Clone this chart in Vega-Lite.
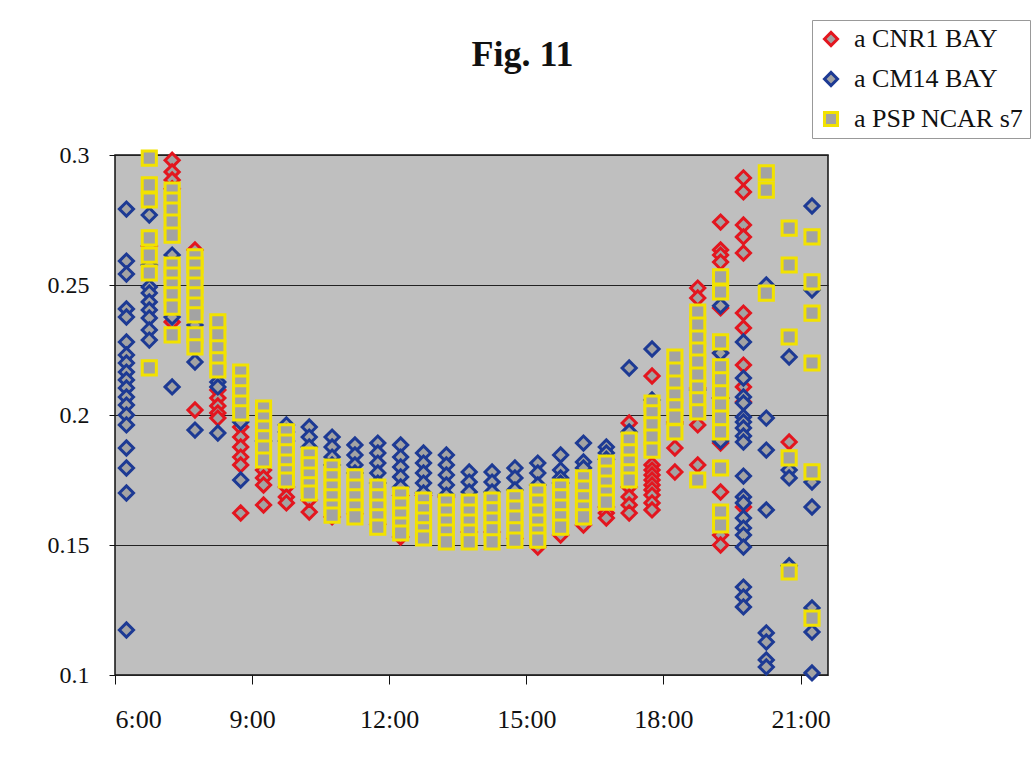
{
  "$schema": "https://vega.github.io/schema/vega-lite/v6.json",
  "width": 713,
  "height": 520,
  "autosize": "none",
  "padding": {"left": 115, "top": 155, "right": 203, "bottom": 87},
  "background": "white",
  "title": {"text": "Fig. 11", "font": "Liberation Serif", "fontSize": 36, "fontWeight": "bold", "anchor": "middle", "dx": 51, "offset": -82, "baseline": "alphabetic", "color": "#111"},
  "config": {
    "view": {"fill": "#bfbfbf", "stroke": "#111", "strokeWidth": 1.5},
    "style": {"guide-label": {"font": "Liberation Serif", "fill": "#111"}},
    "axis": {"labelFont": "Liberation Serif", "labelColor": "#111", "tickColor": "#111", "domain": false, "title": null},
    "legend": {"labelFont": "Liberation Serif", "labelFontSize": 26, "labelColor": "#111", "labelLimit": 400, "labelOffset": 10, "symbolSize": 170, "symbolStrokeWidth": 3, "symbolFillColor": "#a3a3a3", "padding": 6, "rowPadding": 14, "fillColor": "#ffffff", "strokeColor": "#999999"}
  },
  "data": {"values": [
    {"s":"a CNR1 BAY","t":6.75,"v":0.265},
    {"s":"a CNR1 BAY","t":7.25,"v":0.298},{"s":"a CNR1 BAY","t":7.25,"v":0.2935},{"s":"a CNR1 BAY","t":7.25,"v":0.2904},{"s":"a CNR1 BAY","t":7.25,"v":0.287},{"s":"a CNR1 BAY","t":7.25,"v":0.2358},
    {"s":"a CNR1 BAY","t":7.75,"v":0.2635},{"s":"a CNR1 BAY","t":7.75,"v":0.2019},
    {"s":"a CNR1 BAY","t":8.25,"v":0.2096},{"s":"a CNR1 BAY","t":8.25,"v":0.2065},{"s":"a CNR1 BAY","t":8.25,"v":0.2035},{"s":"a CNR1 BAY","t":8.25,"v":0.2008},{"s":"a CNR1 BAY","t":8.25,"v":0.1988},
    {"s":"a CNR1 BAY","t":8.75,"v":0.1954},{"s":"a CNR1 BAY","t":8.75,"v":0.1915},{"s":"a CNR1 BAY","t":8.75,"v":0.1877},{"s":"a CNR1 BAY","t":8.75,"v":0.1838},{"s":"a CNR1 BAY","t":8.75,"v":0.1808},{"s":"a CNR1 BAY","t":8.75,"v":0.1623},
    {"s":"a CNR1 BAY","t":9.25,"v":0.1788},{"s":"a CNR1 BAY","t":9.25,"v":0.1758},{"s":"a CNR1 BAY","t":9.25,"v":0.1731},{"s":"a CNR1 BAY","t":9.25,"v":0.1654},
    {"s":"a CNR1 BAY","t":9.75,"v":0.1723},{"s":"a CNR1 BAY","t":9.75,"v":0.1685},{"s":"a CNR1 BAY","t":9.75,"v":0.1662},
    {"s":"a CNR1 BAY","t":10.25,"v":0.1673},{"s":"a CNR1 BAY","t":10.25,"v":0.1627},
    {"s":"a CNR1 BAY","t":10.75,"v":0.1608},
    {"s":"a CNR1 BAY","t":11.25,"v":0.162},
    {"s":"a CNR1 BAY","t":11.75,"v":0.158},
    {"s":"a CNR1 BAY","t":12.25,"v":0.169},{"s":"a CNR1 BAY","t":12.25,"v":0.1531},
    {"s":"a CNR1 BAY","t":12.75,"v":0.169},
    {"s":"a CNR1 BAY","t":13.25,"v":0.1685},
    {"s":"a CNR1 BAY","t":13.75,"v":0.155},
    {"s":"a CNR1 BAY","t":14.25,"v":0.155},
    {"s":"a CNR1 BAY","t":14.75,"v":0.1525},
    {"s":"a CNR1 BAY","t":15.25,"v":0.1492},
    {"s":"a CNR1 BAY","t":15.75,"v":0.1538},
    {"s":"a CNR1 BAY","t":16.25,"v":0.1577},
    {"s":"a CNR1 BAY","t":16.75,"v":0.1646},{"s":"a CNR1 BAY","t":16.75,"v":0.1623},{"s":"a CNR1 BAY","t":16.75,"v":0.1604},
    {"s":"a CNR1 BAY","t":17.25,"v":0.1969},{"s":"a CNR1 BAY","t":17.25,"v":0.1723},{"s":"a CNR1 BAY","t":17.25,"v":0.1685},{"s":"a CNR1 BAY","t":17.25,"v":0.1654},{"s":"a CNR1 BAY","t":17.25,"v":0.1623},
    {"s":"a CNR1 BAY","t":17.75,"v":0.215},{"s":"a CNR1 BAY","t":17.75,"v":0.1808},{"s":"a CNR1 BAY","t":17.75,"v":0.1788},{"s":"a CNR1 BAY","t":17.75,"v":0.1769},{"s":"a CNR1 BAY","t":17.75,"v":0.175},{"s":"a CNR1 BAY","t":17.75,"v":0.1731},{"s":"a CNR1 BAY","t":17.75,"v":0.1712},{"s":"a CNR1 BAY","t":17.75,"v":0.1692},{"s":"a CNR1 BAY","t":17.75,"v":0.1662},{"s":"a CNR1 BAY","t":17.75,"v":0.1635},
    {"s":"a CNR1 BAY","t":18.25,"v":0.1973},{"s":"a CNR1 BAY","t":18.25,"v":0.1873},{"s":"a CNR1 BAY","t":18.25,"v":0.1781},
    {"s":"a CNR1 BAY","t":18.75,"v":0.2488},{"s":"a CNR1 BAY","t":18.75,"v":0.245},{"s":"a CNR1 BAY","t":18.75,"v":0.2104},{"s":"a CNR1 BAY","t":18.75,"v":0.1962},{"s":"a CNR1 BAY","t":18.75,"v":0.1808},
    {"s":"a CNR1 BAY","t":19.25,"v":0.2742},{"s":"a CNR1 BAY","t":19.25,"v":0.2635},{"s":"a CNR1 BAY","t":19.25,"v":0.2615},{"s":"a CNR1 BAY","t":19.25,"v":0.2588},{"s":"a CNR1 BAY","t":19.25,"v":0.2412},{"s":"a CNR1 BAY","t":19.25,"v":0.2238},{"s":"a CNR1 BAY","t":19.25,"v":0.2065},{"s":"a CNR1 BAY","t":19.25,"v":0.1892},{"s":"a CNR1 BAY","t":19.25,"v":0.1704},{"s":"a CNR1 BAY","t":19.25,"v":0.1538},{"s":"a CNR1 BAY","t":19.25,"v":0.15},
    {"s":"a CNR1 BAY","t":19.75,"v":0.2912},{"s":"a CNR1 BAY","t":19.75,"v":0.2858},{"s":"a CNR1 BAY","t":19.75,"v":0.2731},{"s":"a CNR1 BAY","t":19.75,"v":0.2685},{"s":"a CNR1 BAY","t":19.75,"v":0.2623},{"s":"a CNR1 BAY","t":19.75,"v":0.2392},{"s":"a CNR1 BAY","t":19.75,"v":0.2335},{"s":"a CNR1 BAY","t":19.75,"v":0.2192},{"s":"a CNR1 BAY","t":19.75,"v":0.2108},{"s":"a CNR1 BAY","t":19.75,"v":0.205},{"s":"a CNR1 BAY","t":19.75,"v":0.1646},
    {"s":"a CNR1 BAY","t":20.75,"v":0.1896},

    {"s":"a CM14 BAY","t":6.25,"v":0.2792},{"s":"a CM14 BAY","t":6.25,"v":0.2592},{"s":"a CM14 BAY","t":6.25,"v":0.2542},{"s":"a CM14 BAY","t":6.25,"v":0.2408},{"s":"a CM14 BAY","t":6.25,"v":0.2377},{"s":"a CM14 BAY","t":6.25,"v":0.2281},{"s":"a CM14 BAY","t":6.25,"v":0.2231},{"s":"a CM14 BAY","t":6.25,"v":0.22},{"s":"a CM14 BAY","t":6.25,"v":0.2165},{"s":"a CM14 BAY","t":6.25,"v":0.2135},{"s":"a CM14 BAY","t":6.25,"v":0.2104},{"s":"a CM14 BAY","t":6.25,"v":0.2069},{"s":"a CM14 BAY","t":6.25,"v":0.2038},{"s":"a CM14 BAY","t":6.25,"v":0.2},{"s":"a CM14 BAY","t":6.25,"v":0.1962},{"s":"a CM14 BAY","t":6.25,"v":0.1873},{"s":"a CM14 BAY","t":6.25,"v":0.1796},{"s":"a CM14 BAY","t":6.25,"v":0.17},{"s":"a CM14 BAY","t":6.25,"v":0.1173},
    {"s":"a CM14 BAY","t":6.75,"v":0.2769},{"s":"a CM14 BAY","t":6.75,"v":0.2577},{"s":"a CM14 BAY","t":6.75,"v":0.2492},{"s":"a CM14 BAY","t":6.75,"v":0.2469},{"s":"a CM14 BAY","t":6.75,"v":0.2435},{"s":"a CM14 BAY","t":6.75,"v":0.2404},{"s":"a CM14 BAY","t":6.75,"v":0.2373},{"s":"a CM14 BAY","t":6.75,"v":0.2327},{"s":"a CM14 BAY","t":6.75,"v":0.2288},
    {"s":"a CM14 BAY","t":7.25,"v":0.2615},{"s":"a CM14 BAY","t":7.25,"v":0.2377},{"s":"a CM14 BAY","t":7.25,"v":0.2108},
    {"s":"a CM14 BAY","t":7.75,"v":0.2346},{"s":"a CM14 BAY","t":7.75,"v":0.2204},{"s":"a CM14 BAY","t":7.75,"v":0.1942},
    {"s":"a CM14 BAY","t":8.25,"v":0.2127},{"s":"a CM14 BAY","t":8.25,"v":0.2108},{"s":"a CM14 BAY","t":8.25,"v":0.1931},
    {"s":"a CM14 BAY","t":8.75,"v":0.1973},{"s":"a CM14 BAY","t":8.75,"v":0.175},
    {"s":"a CM14 BAY","t":9.25,"v":0.19},
    {"s":"a CM14 BAY","t":9.75,"v":0.1962},{"s":"a CM14 BAY","t":9.75,"v":0.1935},{"s":"a CM14 BAY","t":9.75,"v":0.19},
    {"s":"a CM14 BAY","t":10.25,"v":0.1954},{"s":"a CM14 BAY","t":10.25,"v":0.1915},{"s":"a CM14 BAY","t":10.25,"v":0.1877},
    {"s":"a CM14 BAY","t":10.75,"v":0.1915},{"s":"a CM14 BAY","t":10.75,"v":0.1877},{"s":"a CM14 BAY","t":10.75,"v":0.1838},{"s":"a CM14 BAY","t":10.75,"v":0.1808},
    {"s":"a CM14 BAY","t":11.25,"v":0.1885},{"s":"a CM14 BAY","t":11.25,"v":0.1846},{"s":"a CM14 BAY","t":11.25,"v":0.1808},{"s":"a CM14 BAY","t":11.25,"v":0.1777},
    {"s":"a CM14 BAY","t":11.75,"v":0.1892},{"s":"a CM14 BAY","t":11.75,"v":0.1854},{"s":"a CM14 BAY","t":11.75,"v":0.1815},{"s":"a CM14 BAY","t":11.75,"v":0.1777},{"s":"a CM14 BAY","t":11.75,"v":0.1738},
    {"s":"a CM14 BAY","t":12.25,"v":0.1885},{"s":"a CM14 BAY","t":12.25,"v":0.1838},{"s":"a CM14 BAY","t":12.25,"v":0.18},{"s":"a CM14 BAY","t":12.25,"v":0.1762},{"s":"a CM14 BAY","t":12.25,"v":0.1723},
    {"s":"a CM14 BAY","t":12.75,"v":0.1854},{"s":"a CM14 BAY","t":12.75,"v":0.1815},{"s":"a CM14 BAY","t":12.75,"v":0.1777},{"s":"a CM14 BAY","t":12.75,"v":0.1738},{"s":"a CM14 BAY","t":12.75,"v":0.17},
    {"s":"a CM14 BAY","t":13.25,"v":0.1846},{"s":"a CM14 BAY","t":13.25,"v":0.1808},{"s":"a CM14 BAY","t":13.25,"v":0.1769},{"s":"a CM14 BAY","t":13.25,"v":0.1731},{"s":"a CM14 BAY","t":13.25,"v":0.1692},
    {"s":"a CM14 BAY","t":13.75,"v":0.1781},{"s":"a CM14 BAY","t":13.75,"v":0.1742},{"s":"a CM14 BAY","t":13.75,"v":0.1704},
    {"s":"a CM14 BAY","t":14.25,"v":0.1781},{"s":"a CM14 BAY","t":14.25,"v":0.1742},{"s":"a CM14 BAY","t":14.25,"v":0.1704},
    {"s":"a CM14 BAY","t":14.75,"v":0.1796},{"s":"a CM14 BAY","t":14.75,"v":0.1758},{"s":"a CM14 BAY","t":14.75,"v":0.1712},
    {"s":"a CM14 BAY","t":15.25,"v":0.1815},{"s":"a CM14 BAY","t":15.25,"v":0.1777},{"s":"a CM14 BAY","t":15.25,"v":0.1731},
    {"s":"a CM14 BAY","t":15.75,"v":0.1846},{"s":"a CM14 BAY","t":15.75,"v":0.1788},{"s":"a CM14 BAY","t":15.75,"v":0.1758},{"s":"a CM14 BAY","t":15.75,"v":0.1738},
    {"s":"a CM14 BAY","t":16.25,"v":0.1892},{"s":"a CM14 BAY","t":16.25,"v":0.1819},{"s":"a CM14 BAY","t":16.25,"v":0.1796},
    {"s":"a CM14 BAY","t":16.75,"v":0.1877},{"s":"a CM14 BAY","t":16.75,"v":0.1854},{"s":"a CM14 BAY","t":16.75,"v":0.183},
    {"s":"a CM14 BAY","t":17.25,"v":0.2181},{"s":"a CM14 BAY","t":17.25,"v":0.1935},
    {"s":"a CM14 BAY","t":17.75,"v":0.2254},{"s":"a CM14 BAY","t":17.75,"v":0.2058},
    {"s":"a CM14 BAY","t":18.25,"v":0.1965},
    {"s":"a CM14 BAY","t":18.75,"v":0.2096},
    {"s":"a CM14 BAY","t":19.25,"v":0.242},{"s":"a CM14 BAY","t":19.25,"v":0.2238},{"s":"a CM14 BAY","t":19.25,"v":0.2065},{"s":"a CM14 BAY","t":19.25,"v":0.19},
    {"s":"a CM14 BAY","t":19.75,"v":0.2281},{"s":"a CM14 BAY","t":19.75,"v":0.2142},{"s":"a CM14 BAY","t":19.75,"v":0.2069},{"s":"a CM14 BAY","t":19.75,"v":0.2046},{"s":"a CM14 BAY","t":19.75,"v":0.1992},{"s":"a CM14 BAY","t":19.75,"v":0.1973},{"s":"a CM14 BAY","t":19.75,"v":0.195},{"s":"a CM14 BAY","t":19.75,"v":0.1919},{"s":"a CM14 BAY","t":19.75,"v":0.1896},{"s":"a CM14 BAY","t":19.75,"v":0.1765},{"s":"a CM14 BAY","t":19.75,"v":0.1685},{"s":"a CM14 BAY","t":19.75,"v":0.1662},{"s":"a CM14 BAY","t":19.75,"v":0.1604},{"s":"a CM14 BAY","t":19.75,"v":0.1565},{"s":"a CM14 BAY","t":19.75,"v":0.1538},{"s":"a CM14 BAY","t":19.75,"v":0.1492},{"s":"a CM14 BAY","t":19.75,"v":0.1338},{"s":"a CM14 BAY","t":19.75,"v":0.13},{"s":"a CM14 BAY","t":19.75,"v":0.1262},
    {"s":"a CM14 BAY","t":20.25,"v":0.25},{"s":"a CM14 BAY","t":20.25,"v":0.1988},{"s":"a CM14 BAY","t":20.25,"v":0.1865},{"s":"a CM14 BAY","t":20.25,"v":0.1635},{"s":"a CM14 BAY","t":20.25,"v":0.1162},{"s":"a CM14 BAY","t":20.25,"v":0.1127},{"s":"a CM14 BAY","t":20.25,"v":0.1058},{"s":"a CM14 BAY","t":20.25,"v":0.1031},
    {"s":"a CM14 BAY","t":20.75,"v":0.2223},{"s":"a CM14 BAY","t":20.75,"v":0.1788},{"s":"a CM14 BAY","t":20.75,"v":0.1758},{"s":"a CM14 BAY","t":20.75,"v":0.142},
    {"s":"a CM14 BAY","t":21.25,"v":0.2804},{"s":"a CM14 BAY","t":21.25,"v":0.2481},{"s":"a CM14 BAY","t":21.25,"v":0.1742},{"s":"a CM14 BAY","t":21.25,"v":0.1646},{"s":"a CM14 BAY","t":21.25,"v":0.1258},{"s":"a CM14 BAY","t":21.25,"v":0.1165},{"s":"a CM14 BAY","t":21.25,"v":0.1008},

    {"s":"a PSP NCAR s7","t":6.75,"v":0.2988},{"s":"a PSP NCAR s7","t":6.75,"v":0.2885},{"s":"a PSP NCAR s7","t":6.75,"v":0.2827},{"s":"a PSP NCAR s7","t":6.75,"v":0.2681},{"s":"a PSP NCAR s7","t":6.75,"v":0.2615},{"s":"a PSP NCAR s7","t":6.75,"v":0.2546},{"s":"a PSP NCAR s7","t":6.75,"v":0.2181},
    {"s":"a PSP NCAR s7","t":7.25,"v":0.2865},{"s":"a PSP NCAR s7","t":7.25,"v":0.2827},{"s":"a PSP NCAR s7","t":7.25,"v":0.2788},{"s":"a PSP NCAR s7","t":7.25,"v":0.2742},{"s":"a PSP NCAR s7","t":7.25,"v":0.2692},{"s":"a PSP NCAR s7","t":7.25,"v":0.2577},{"s":"a PSP NCAR s7","t":7.25,"v":0.2538},{"s":"a PSP NCAR s7","t":7.25,"v":0.25},{"s":"a PSP NCAR s7","t":7.25,"v":0.2462},{"s":"a PSP NCAR s7","t":7.25,"v":0.2415},{"s":"a PSP NCAR s7","t":7.25,"v":0.2308},
    {"s":"a PSP NCAR s7","t":7.75,"v":0.2608},{"s":"a PSP NCAR s7","t":7.75,"v":0.2577},{"s":"a PSP NCAR s7","t":7.75,"v":0.2538},{"s":"a PSP NCAR s7","t":7.75,"v":0.25},{"s":"a PSP NCAR s7","t":7.75,"v":0.2462},{"s":"a PSP NCAR s7","t":7.75,"v":0.2423},{"s":"a PSP NCAR s7","t":7.75,"v":0.2385},{"s":"a PSP NCAR s7","t":7.75,"v":0.2308},{"s":"a PSP NCAR s7","t":7.75,"v":0.2262},
    {"s":"a PSP NCAR s7","t":8.25,"v":0.2358},{"s":"a PSP NCAR s7","t":8.25,"v":0.2308},{"s":"a PSP NCAR s7","t":8.25,"v":0.2258},{"s":"a PSP NCAR s7","t":8.25,"v":0.2212},{"s":"a PSP NCAR s7","t":8.25,"v":0.2173},
    {"s":"a PSP NCAR s7","t":8.75,"v":0.2165},{"s":"a PSP NCAR s7","t":8.75,"v":0.2123},{"s":"a PSP NCAR s7","t":8.75,"v":0.2085},{"s":"a PSP NCAR s7","t":8.75,"v":0.2046},{"s":"a PSP NCAR s7","t":8.75,"v":0.2008},
    {"s":"a PSP NCAR s7","t":9.25,"v":0.2027},{"s":"a PSP NCAR s7","t":9.25,"v":0.1988},{"s":"a PSP NCAR s7","t":9.25,"v":0.195},{"s":"a PSP NCAR s7","t":9.25,"v":0.1912},{"s":"a PSP NCAR s7","t":9.25,"v":0.1873},{"s":"a PSP NCAR s7","t":9.25,"v":0.1827},
    {"s":"a PSP NCAR s7","t":9.75,"v":0.1935},{"s":"a PSP NCAR s7","t":9.75,"v":0.1896},{"s":"a PSP NCAR s7","t":9.75,"v":0.1858},{"s":"a PSP NCAR s7","t":9.75,"v":0.1819},{"s":"a PSP NCAR s7","t":9.75,"v":0.1781},{"s":"a PSP NCAR s7","t":9.75,"v":0.175},
    {"s":"a PSP NCAR s7","t":10.25,"v":0.1846},{"s":"a PSP NCAR s7","t":10.25,"v":0.1808},{"s":"a PSP NCAR s7","t":10.25,"v":0.1769},{"s":"a PSP NCAR s7","t":10.25,"v":0.1731},{"s":"a PSP NCAR s7","t":10.25,"v":0.17},
    {"s":"a PSP NCAR s7","t":10.75,"v":0.18},{"s":"a PSP NCAR s7","t":10.75,"v":0.1762},{"s":"a PSP NCAR s7","t":10.75,"v":0.1723},{"s":"a PSP NCAR s7","t":10.75,"v":0.1685},{"s":"a PSP NCAR s7","t":10.75,"v":0.1646},{"s":"a PSP NCAR s7","t":10.75,"v":0.1615},
    {"s":"a PSP NCAR s7","t":11.25,"v":0.1762},{"s":"a PSP NCAR s7","t":11.25,"v":0.1723},{"s":"a PSP NCAR s7","t":11.25,"v":0.1685},{"s":"a PSP NCAR s7","t":11.25,"v":0.1646},{"s":"a PSP NCAR s7","t":11.25,"v":0.1608},
    {"s":"a PSP NCAR s7","t":11.75,"v":0.1723},{"s":"a PSP NCAR s7","t":11.75,"v":0.1685},{"s":"a PSP NCAR s7","t":11.75,"v":0.1646},{"s":"a PSP NCAR s7","t":11.75,"v":0.1608},{"s":"a PSP NCAR s7","t":11.75,"v":0.1569},
    {"s":"a PSP NCAR s7","t":12.25,"v":0.1692},{"s":"a PSP NCAR s7","t":12.25,"v":0.1654},{"s":"a PSP NCAR s7","t":12.25,"v":0.1615},{"s":"a PSP NCAR s7","t":12.25,"v":0.1577},{"s":"a PSP NCAR s7","t":12.25,"v":0.1546},
    {"s":"a PSP NCAR s7","t":12.75,"v":0.1673},{"s":"a PSP NCAR s7","t":12.75,"v":0.1635},{"s":"a PSP NCAR s7","t":12.75,"v":0.1596},{"s":"a PSP NCAR s7","t":12.75,"v":0.1558},{"s":"a PSP NCAR s7","t":12.75,"v":0.1527},
    {"s":"a PSP NCAR s7","t":13.25,"v":0.1665},{"s":"a PSP NCAR s7","t":13.25,"v":0.1627},{"s":"a PSP NCAR s7","t":13.25,"v":0.1588},{"s":"a PSP NCAR s7","t":13.25,"v":0.155},{"s":"a PSP NCAR s7","t":13.25,"v":0.1512},
    {"s":"a PSP NCAR s7","t":13.75,"v":0.1665},{"s":"a PSP NCAR s7","t":13.75,"v":0.1627},{"s":"a PSP NCAR s7","t":13.75,"v":0.1588},{"s":"a PSP NCAR s7","t":13.75,"v":0.155},{"s":"a PSP NCAR s7","t":13.75,"v":0.1512},
    {"s":"a PSP NCAR s7","t":14.25,"v":0.1673},{"s":"a PSP NCAR s7","t":14.25,"v":0.1635},{"s":"a PSP NCAR s7","t":14.25,"v":0.1596},{"s":"a PSP NCAR s7","t":14.25,"v":0.1558},{"s":"a PSP NCAR s7","t":14.25,"v":0.1512},
    {"s":"a PSP NCAR s7","t":14.75,"v":0.1681},{"s":"a PSP NCAR s7","t":14.75,"v":0.1642},{"s":"a PSP NCAR s7","t":14.75,"v":0.1604},{"s":"a PSP NCAR s7","t":14.75,"v":0.1558},{"s":"a PSP NCAR s7","t":14.75,"v":0.1519},
    {"s":"a PSP NCAR s7","t":15.25,"v":0.1704},{"s":"a PSP NCAR s7","t":15.25,"v":0.1665},{"s":"a PSP NCAR s7","t":15.25,"v":0.1627},{"s":"a PSP NCAR s7","t":15.25,"v":0.1588},{"s":"a PSP NCAR s7","t":15.25,"v":0.155},{"s":"a PSP NCAR s7","t":15.25,"v":0.1519},
    {"s":"a PSP NCAR s7","t":15.75,"v":0.1723},{"s":"a PSP NCAR s7","t":15.75,"v":0.1685},{"s":"a PSP NCAR s7","t":15.75,"v":0.1646},{"s":"a PSP NCAR s7","t":15.75,"v":0.1608},{"s":"a PSP NCAR s7","t":15.75,"v":0.1569},
    {"s":"a PSP NCAR s7","t":16.25,"v":0.1758},{"s":"a PSP NCAR s7","t":16.25,"v":0.1719},{"s":"a PSP NCAR s7","t":16.25,"v":0.1681},{"s":"a PSP NCAR s7","t":16.25,"v":0.1642},{"s":"a PSP NCAR s7","t":16.25,"v":0.1608},
    {"s":"a PSP NCAR s7","t":16.75,"v":0.1815},{"s":"a PSP NCAR s7","t":16.75,"v":0.1777},{"s":"a PSP NCAR s7","t":16.75,"v":0.1738},{"s":"a PSP NCAR s7","t":16.75,"v":0.17},{"s":"a PSP NCAR s7","t":16.75,"v":0.1665},
    {"s":"a PSP NCAR s7","t":17.25,"v":0.1904},{"s":"a PSP NCAR s7","t":17.25,"v":0.1858},{"s":"a PSP NCAR s7","t":17.25,"v":0.1819},{"s":"a PSP NCAR s7","t":17.25,"v":0.1781},{"s":"a PSP NCAR s7","t":17.25,"v":0.175},
    {"s":"a PSP NCAR s7","t":17.75,"v":0.2046},{"s":"a PSP NCAR s7","t":17.75,"v":0.2008},{"s":"a PSP NCAR s7","t":17.75,"v":0.1962},{"s":"a PSP NCAR s7","t":17.75,"v":0.1915},{"s":"a PSP NCAR s7","t":17.75,"v":0.1865},
    {"s":"a PSP NCAR s7","t":18.25,"v":0.2223},{"s":"a PSP NCAR s7","t":18.25,"v":0.2173},{"s":"a PSP NCAR s7","t":18.25,"v":0.2123},{"s":"a PSP NCAR s7","t":18.25,"v":0.2077},{"s":"a PSP NCAR s7","t":18.25,"v":0.2031},{"s":"a PSP NCAR s7","t":18.25,"v":0.1992},{"s":"a PSP NCAR s7","t":18.25,"v":0.1935},
    {"s":"a PSP NCAR s7","t":18.75,"v":0.2396},{"s":"a PSP NCAR s7","t":18.75,"v":0.2346},{"s":"a PSP NCAR s7","t":18.75,"v":0.2296},{"s":"a PSP NCAR s7","t":18.75,"v":0.225},{"s":"a PSP NCAR s7","t":18.75,"v":0.2204},{"s":"a PSP NCAR s7","t":18.75,"v":0.2154},{"s":"a PSP NCAR s7","t":18.75,"v":0.2104},{"s":"a PSP NCAR s7","t":18.75,"v":0.2058},{"s":"a PSP NCAR s7","t":18.75,"v":0.2012},{"s":"a PSP NCAR s7","t":18.75,"v":0.175},
    {"s":"a PSP NCAR s7","t":19.25,"v":0.2531},{"s":"a PSP NCAR s7","t":19.25,"v":0.2473},{"s":"a PSP NCAR s7","t":19.25,"v":0.2281},{"s":"a PSP NCAR s7","t":19.25,"v":0.2185},{"s":"a PSP NCAR s7","t":19.25,"v":0.2135},{"s":"a PSP NCAR s7","t":19.25,"v":0.2085},{"s":"a PSP NCAR s7","t":19.25,"v":0.2038},{"s":"a PSP NCAR s7","t":19.25,"v":0.1988},{"s":"a PSP NCAR s7","t":19.25,"v":0.1935},{"s":"a PSP NCAR s7","t":19.25,"v":0.1796},{"s":"a PSP NCAR s7","t":19.25,"v":0.1627},{"s":"a PSP NCAR s7","t":19.25,"v":0.1577},
    {"s":"a PSP NCAR s7","t":20.25,"v":0.2931},{"s":"a PSP NCAR s7","t":20.25,"v":0.2865},{"s":"a PSP NCAR s7","t":20.25,"v":0.2469},
    {"s":"a PSP NCAR s7","t":20.75,"v":0.2719},{"s":"a PSP NCAR s7","t":20.75,"v":0.2577},{"s":"a PSP NCAR s7","t":20.75,"v":0.23},{"s":"a PSP NCAR s7","t":20.75,"v":0.1835},{"s":"a PSP NCAR s7","t":20.75,"v":0.1396},
    {"s":"a PSP NCAR s7","t":21.25,"v":0.2685},{"s":"a PSP NCAR s7","t":21.25,"v":0.2512},{"s":"a PSP NCAR s7","t":21.25,"v":0.2392},{"s":"a PSP NCAR s7","t":21.25,"v":0.22},{"s":"a PSP NCAR s7","t":21.25,"v":0.1781},{"s":"a PSP NCAR s7","t":21.25,"v":0.1219}
  ]},
  "mark": {"type": "point", "filled": true, "fill": "#a3a3a3", "strokeWidth": 3, "size": 200, "opacity": 1, "clip": false},
  "encoding": {
    "x": {"field": "t", "type": "quantitative", "scale": {"domain": [6, 21.6], "nice": false, "zero": false},
      "axis": {"values": [6, 9, 12, 15, 18, 21], "labelExpr": "floor(datum.value) + ':00'", "grid": false, "tickSize": 9, "labelPadding": 22, "labelFontSize": 26}},
    "y": {"field": "v", "type": "quantitative", "scale": {"domain": [0.1, 0.3], "nice": false, "zero": false},
      "axis": {"values": [0.1, 0.15, 0.2, 0.25, 0.3], "format": ".2~f", "grid": true, "gridColor": "#222", "gridWidth": 1, "gridOpacity": 1, "tickSize": 6, "labelPadding": 20, "labelFontSize": 24}},
    "stroke": {"field": "s", "type": "nominal",
      "scale": {"domain": ["a CNR1 BAY", "a CM14 BAY", "a PSP NCAR s7"], "range": ["#e3161f", "#1d3a94", "#f2e200"]},
      "legend": {"title": null, "orient": "none", "legendX": 697, "legendY": -135, "labelFont": "Liberation Serif", "labelFontSize": 26}},
    "shape": {"field": "s", "type": "nominal",
      "scale": {"domain": ["a CNR1 BAY", "a CM14 BAY", "a PSP NCAR s7"], "range": ["diamond", "diamond", "square"]},
      "legend": {"title": null, "orient": "none", "legendX": 697, "legendY": -135, "labelFont": "Liberation Serif", "labelFontSize": 26}}
  }
}
